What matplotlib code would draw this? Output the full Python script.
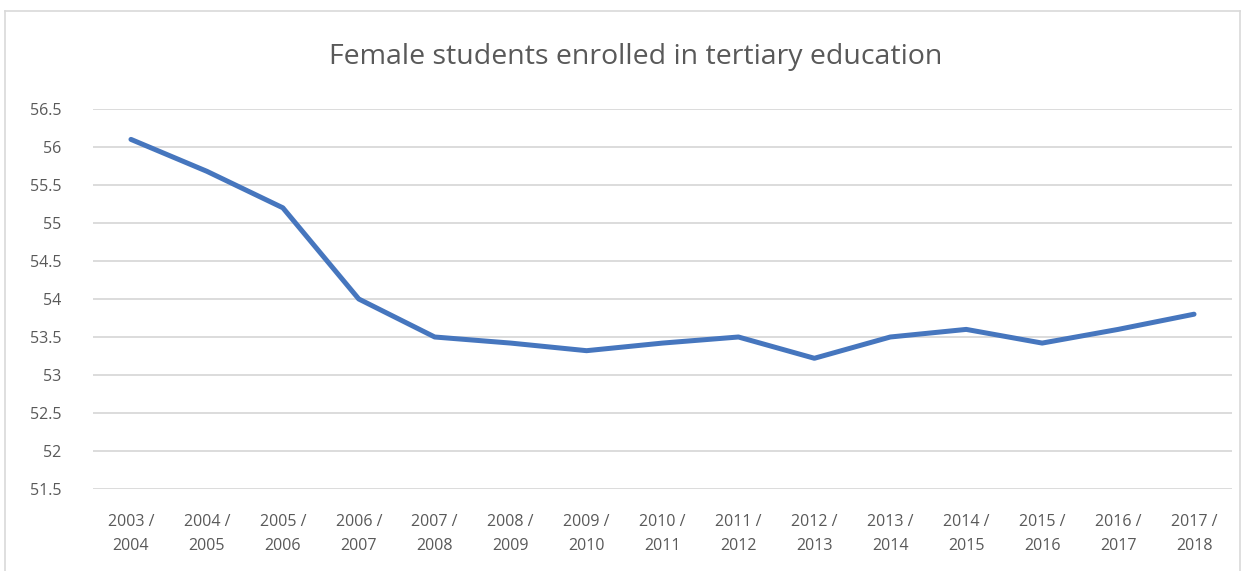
import matplotlib
matplotlib.use("Agg")
import matplotlib.pyplot as plt
from matplotlib.lines import Line2D

categories = ["2003 /\n2004", "2004 /\n2005", "2005 /\n2006", "2006 /\n2007", "2007 /\n2008",
              "2008 /\n2009", "2009 /\n2010", "2010 /\n2011", "2011 /\n2012", "2012 /\n2013",
              "2013 /\n2014", "2014 /\n2015", "2015 /\n2016", "2016 /\n2017", "2017 /\n2018"]
values = [56.1, 55.68, 55.2, 54.0, 53.5, 53.42, 53.32, 53.42, 53.5, 53.22, 53.5, 53.6, 53.42, 53.6, 53.8]
yticks = [51.5, 52, 52.5, 53, 53.5, 54, 54.5, 55, 55.5, 56, 56.5]
ytick_labels = ["51.5", "52", "52.5", "53", "53.5", "54", "54.5", "55", "55.5", "56", "56.5"]
title = "Female students enrolled in tertiary education"

plt.rcParams['font.family'] = ['Open Sans', 'DejaVu Sans']

fig = plt.figure(figsize=(12.48, 5.71), dpi=100)
ax = fig.add_axes([93/1248, 1 - 489/571, (1232 - 93)/1248, (489 - 109)/571])

x = list(range(len(categories)))
ax.plot(x, values, color="#4676BE", linewidth=3.6, solid_capstyle="round", solid_joinstyle="round", zorder=3)

ax.set_xlim(-0.5, len(categories) - 0.5)
ax.set_ylim(51.5, 56.5)
ax.set_yticks(yticks)
ax.set_yticklabels(ytick_labels)
ax.set_xticks(x)
ax.set_xticklabels(categories, linespacing=1.7)
ax.grid(axis="y", color="#d9d9d9", linewidth=1.3)
ax.set_axisbelow(True)
for s in ax.spines.values():
    s.set_visible(False)
ax.tick_params(axis="both", length=0, labelsize=11.5, colors="#595959")
ax.tick_params(axis="y", pad=23)
ax.tick_params(axis="x", pad=18)

fig.text(636/1248, 1 - 57/571, title, ha="center", va="center", fontsize=20.5, color="#595959")

# outer chart frame
fig.add_artist(Line2D([5/1248, 1240/1248], [1 - 11/571, 1 - 11/571], transform=fig.transFigure, color="#d9d9d9", linewidth=1.2))
fig.add_artist(Line2D([5/1248, 5/1248], [0, 1 - 11/571], transform=fig.transFigure, color="#d9d9d9", linewidth=1.2))
fig.add_artist(Line2D([1240/1248, 1240/1248], [0, 1 - 11/571], transform=fig.transFigure, color="#d9d9d9", linewidth=1.2))

fig.savefig("out.png", dpi=100, facecolor="white")
